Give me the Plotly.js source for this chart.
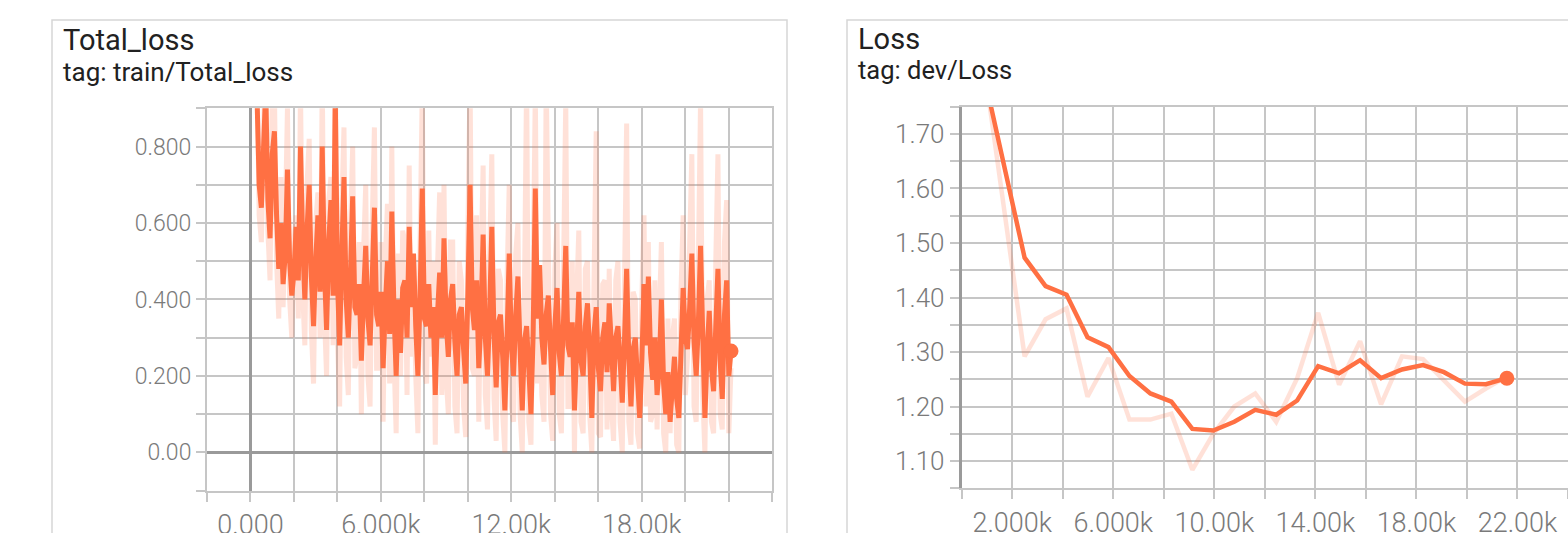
<!DOCTYPE html>
<html>
<head>
<meta charset="utf-8">
<script src="https://cdn.plot.ly/plotly-3.0.1.min.js"></script>
<style>
html,body{margin:0;padding:0;background:#fff;overflow:hidden;}
#chart{width:1568px;height:533px;}
</style>
</head>
<body>
<div id="chart"></div>
<script>
// ---------- Panel 1: train/Total_loss ----------
const trainTitle = 'Total_loss';
const trainTag = 'tag: train/Total_loss';
const trainSmoothed = [
  0.93,0.70,0.64,0.88,0.95,0.66,0.56,0.78,0.84,0.62,0.48,0.60,0.44,0.52,0.74,0.50,0.41,0.47,0.59,0.45,
  0.80,0.55,0.40,0.58,0.70,0.46,0.33,0.50,0.62,0.42,0.80,0.48,0.32,0.55,0.66,0.41,0.93,0.45,0.28,0.52,
  0.72,0.40,0.30,0.47,0.67,0.38,0.36,0.44,0.24,0.41,0.54,0.35,0.28,0.46,0.64,0.36,0.33,0.42,0.22,0.38,
  0.50,0.31,0.63,0.37,0.20,0.40,0.26,0.43,0.45,0.30,0.59,0.38,0.52,0.33,0.20,0.41,0.69,0.35,0.33,0.44,
  0.30,0.38,0.15,0.36,0.47,0.30,0.56,0.34,0.25,0.40,0.44,0.29,0.20,0.36,0.38,0.27,0.18,0.42,0.70,0.38,
  0.32,0.45,0.22,0.35,0.57,0.30,0.20,0.37,0.59,0.31,0.17,0.34,0.36,0.25,0.11,0.30,0.52,0.28,0.20,0.36,
  0.46,0.27,0.11,0.29,0.33,0.22,0.10,0.31,0.69,0.35,0.49,0.30,0.23,0.36,0.41,0.27,0.15,0.33,0.43,0.26,
  0.20,0.35,0.54,0.28,0.25,0.34,0.11,0.27,0.42,0.24,0.20,0.33,0.39,0.26,0.09,0.31,0.38,0.22,0.16,0.30,
  0.34,0.21,0.39,0.28,0.16,0.30,0.33,0.24,0.13,0.29,0.48,0.25,0.12,0.27,0.30,0.19,0.09,0.24,0.44,0.28,
  0.46,0.26,0.19,0.30,0.15,0.22,0.40,0.18,0.10,0.21,0.08,0.17,0.25,0.14,0.09,0.26,0.43,0.30,0.27,0.38,
  0.52,0.29,0.20,0.34,0.54,0.31,0.09,0.26,0.37,0.22,0.16,0.33,0.48,0.24,0.14,0.36,0.45,0.20,0.265
];
const trainRaw = [
  1.00,0.62,0.55,1.00,1.10,0.58,0.45,0.92,0.95,0.50,0.35,0.72,0.38,0.60,0.90,0.40,0.30,0.55,0.62,0.35,
  0.95,0.42,0.28,0.70,0.82,0.32,0.18,0.60,0.68,0.30,0.98,0.36,0.20,0.66,0.72,0.28,1.05,0.30,0.12,0.64,
  0.85,0.25,0.15,0.58,0.80,0.22,0.25,0.55,0.10,0.52,0.70,0.20,0.12,0.60,0.85,0.22,0.22,0.55,0.08,0.50,
  0.65,0.18,0.80,0.25,0.05,0.52,0.20,0.58,0.55,0.15,0.75,0.25,0.50,0.20,0.05,0.55,0.95,0.22,0.18,0.58,
  0.25,0.50,0.02,0.48,0.68,0.15,0.70,0.20,0.10,0.55,0.55,0.12,0.05,0.50,0.45,0.12,0.04,0.58,0.98,0.22,
  0.20,0.62,0.08,0.48,0.75,0.15,0.06,0.52,0.78,0.14,0.03,0.48,0.45,0.10,0.00,0.45,0.70,0.12,0.08,0.52,
  0.60,0.10,0.00,0.42,0.98,0.08,0.02,0.45,0.95,0.18,0.45,0.15,0.08,0.98,0.55,0.10,0.03,0.48,0.60,0.10,
  0.05,0.50,0.92,0.12,0.12,0.50,0.00,0.40,0.58,0.08,0.05,0.48,0.50,0.10,0.00,0.45,0.84,0.05,0.04,0.44,
  0.45,0.06,0.48,0.12,0.03,0.45,0.50,0.08,0.00,0.44,0.86,0.08,0.02,0.42,0.40,0.05,0.01,0.40,0.62,0.12,
  0.55,0.08,0.10,0.45,0.06,0.35,0.55,0.05,0.00,0.35,0.05,0.30,0.35,0.02,0.00,0.42,0.62,0.15,0.25,0.55,
  0.78,0.12,0.08,0.50,0.92,0.15,0.00,0.40,0.45,0.08,0.05,0.50,0.78,0.10,0.06,0.55,0.66,0.05,0.22
];
const trainSteps = trainSmoothed.map((v, i) => 300 + 100 * i);
const trainXTickVals = [-2000,0,2000,4000,6000,8000,10000,12000,14000,16000,18000,20000,22000,24000];
const trainXTickText = ['','0.000','','','6.000k','','','12.00k','','','18.00k','','',''];
const trainYTickVals = [-0.1,0,0.1,0.2,0.3,0.4,0.5,0.6,0.7,0.8,0.9];
const trainYTickText = ['','0.00','','0.200','','0.400','','0.600','','0.800',''];

// ---------- Panel 2: dev/Loss ----------
const devTitle = 'Loss';
const devTag = 'tag: dev/Loss';
const devSteps = [1040,2490,3320,4150,4980,5810,6640,7470,8300,9130,9960,10790,11620,12450,13280,14110,14940,15770,16600,17430,18260,19090,19920,20750,21580];
const devRaw = [1.775,1.292,1.360,1.380,1.218,1.289,1.176,1.176,1.187,1.084,1.150,1.200,1.224,1.172,1.252,1.372,1.240,1.320,1.204,1.292,1.287,1.248,1.209,1.233,1.255];
const devSmoothed = [1.775,1.473,1.421,1.405,1.327,1.309,1.256,1.224,1.209,1.159,1.156,1.172,1.194,1.185,1.211,1.274,1.261,1.285,1.252,1.268,1.276,1.263,1.242,1.241,1.252];
const devXTickVals = [0,2000,4000,6000,8000,10000,12000,14000,16000,18000,20000,22000,24000];
const devXTickText = ['','2.000k','','6.000k','','10.00k','','14.00k','','18.00k','','22.00k',''];
const devYTickVals = [1.05,1.10,1.15,1.20,1.25,1.30,1.35,1.40,1.45,1.50,1.55,1.60,1.65,1.70,1.75];
const devYTickText = ['','1.10','','1.20','','1.30','','1.40','','1.50','','1.60','','1.70',''];

const ORANGE = '#ff7043';
const GRID = '#c6c6c6';
const W = 1568, H = 533;
const px = v => v / W;
const py = v => 1 - v / H;
const font = (size) => ({family: 'Roboto, sans-serif', size: size, color: '#7a7a7a', weight: 300});

function lineTrace(x, y, xa, ya, opacity, width) {
  return {x: x, y: y, xaxis: xa, yaxis: ya, type: 'scatter', mode: 'lines',
    line: {color: ORANGE, width: width}, opacity: opacity, hoverinfo: 'skip'};
}
function dotTrace(x, y, xa, ya) {
  return {x: [x[x.length - 1]], y: [y[y.length - 1]], xaxis: xa, yaxis: ya,
    type: 'scatter', mode: 'markers', marker: {color: ORANGE, size: 15}, cliponaxis: false, hoverinfo: 'skip'};
}

const data = [
  lineTrace(trainSteps, trainRaw, 'x', 'y', 0.2, 5),
  lineTrace(trainSteps, trainSmoothed, 'x', 'y', 1, 5),
  dotTrace(trainSteps, trainSmoothed, 'x', 'y'),
  lineTrace(devSteps, devRaw, 'x2', 'y2', 0.2, 4.5),
  lineTrace(devSteps, devSmoothed, 'x2', 'y2', 1, 4.5),
  dotTrace(devSteps, devSmoothed, 'x2', 'y2')
];

function axisBase(extra) {
  return Object.assign({
    tickmode: 'array', ticks: 'outside', ticklen: 9, tickwidth: 2, tickcolor: GRID,
    showgrid: true, gridcolor: GRID, gridwidth: 2,
    showline: true, mirror: true, linecolor: GRID, linewidth: 2,
    fixedrange: true
  }, extra);
}

const layout = {
  width: W, height: H,
  margin: {l: 0, r: 0, t: 0, b: 0},
  paper_bgcolor: '#fff', plot_bgcolor: '#fff',
  showlegend: false,
  xaxis: axisBase({domain: [px(207), px(772.3)], range: [-2000, 24000], anchor: 'y',
    tickvals: trainXTickVals, ticktext: trainXTickText, tickfont: font(27),
    zeroline: true, zerolinecolor: '#9a9a9a', zerolinewidth: 3}),
  yaxis: axisBase({domain: [py(490.6), py(108.3)], range: [-0.1, 0.9], anchor: 'x',
    tickvals: trainYTickVals, ticktext: trainYTickText, tickfont: font(23),
    zeroline: true, zerolinecolor: '#9a9a9a', zerolinewidth: 3}),
  xaxis2: axisBase({domain: [px(961.7), 1], range: [0, 24000], anchor: 'y2',
    tickvals: devXTickVals, ticktext: devXTickText, tickfont: font(27), zeroline: false}),
  yaxis2: axisBase({domain: [py(488.3), py(106.7)], range: [1.05, 1.75], anchor: 'x2',
    tickvals: devYTickVals, ticktext: devYTickText, tickfont: font(26), zeroline: false,
    linecolor: '#9a9a9a', linewidth: 3, mirror: false}),
  shapes: [
    {type: 'rect', xref: 'paper', yref: 'paper', x0: px(52), x1: px(787), y0: -0.1, y1: py(20),
      line: {color: '#d6d6d6', width: 1.5}, fillcolor: 'rgba(0,0,0,0)', layer: 'below'},
    {type: 'rect', xref: 'paper', yref: 'paper', x0: px(847), x1: 1.05, y0: -0.1, y1: py(20),
      line: {color: '#d6d6d6', width: 1.5}, fillcolor: 'rgba(0,0,0,0)', layer: 'below'}
  ],
  annotations: [
    {text: trainTitle, xref: 'paper', yref: 'paper', x: px(61), y: py(40), xanchor: 'left', yanchor: 'middle',
      showarrow: false, font: {family: 'Roboto, sans-serif', size: 29, color: '#212121'}},
    {text: trainTag, xref: 'paper', yref: 'paper', x: px(61), y: py(72), xanchor: 'left', yanchor: 'middle',
      showarrow: false, font: {family: 'Roboto, sans-serif', size: 26, color: '#212121'}},
    {text: devTitle, xref: 'paper', yref: 'paper', x: px(856), y: py(39), xanchor: 'left', yanchor: 'middle',
      showarrow: false, font: {family: 'Roboto, sans-serif', size: 29, color: '#212121'}},
    {text: devTag, xref: 'paper', yref: 'paper', x: px(856), y: py(70), xanchor: 'left', yanchor: 'middle',
      showarrow: false, font: {family: 'Roboto, sans-serif', size: 25.5, color: '#212121'}}
  ]
};

Plotly.newPlot('chart', data, layout, {displayModeBar: false, staticPlot: true});
</script>
</body>
</html>
